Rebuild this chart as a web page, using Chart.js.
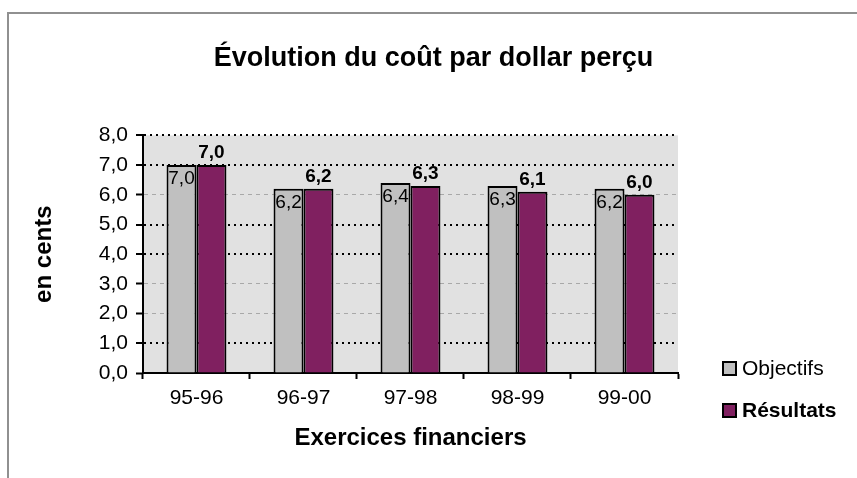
<!DOCTYPE html>
<html lang="fr">
<head>
<meta charset="utf-8">
<title>Évolution du coût par dollar perçu</title>
<script src="https://cdn.jsdelivr.net/npm/chart.js@4.4.1/dist/chart.umd.min.js"></script>
<style>
  html, body { margin: 0; padding: 0; background: #fff; }
  #wrap { position: relative; width: 857px; height: 478px; }
</style>
</head>
<body>
<div id="wrap"><canvas id="cout"></canvas></div>
<script>
// Data
const exercices = ['95-96', '96-97', '97-98', '98-99', '99-00'];
const objectifs = [7.0, 6.2, 6.4, 6.3, 6.2];
const resultats = [7.0, 6.2, 6.3, 6.1, 6.0];
const yTicks = [0, 1, 2, 3, 4, 5, 6, 7, 8];

const FONT = "'Liberation Sans', Arial, sans-serif";
const fmt = v => Number(v).toFixed(1).replace('.', ',');

// grid lines that show as black dots in the original (others are light grey dashes)
const darkLines = [1, 4, 5, 7, 8];

// grey frame, plot background
const backdrop = {
  id: 'backdrop',
  beforeDraw(chart) {
    const { ctx, chartArea: a } = chart;
    ctx.save();
    ctx.strokeStyle = '#909090';
    ctx.lineWidth = 2;
    ctx.beginPath();
    ctx.moveTo(8, chart.height);
    ctx.lineTo(8, 13);
    ctx.lineTo(chart.width, 13);
    ctx.stroke();
    ctx.fillStyle = '#e1e1e1';
    ctx.fillRect(a.left, a.top, a.right - a.left, a.bottom - a.top);
    ctx.restore();
  }
};

// value labels: inside the top of the grey bar, bold above the purple one
const valueLabels = {
  id: 'valueLabels',
  afterDatasetsDraw(chart) {
    const { ctx } = chart;
    ctx.save();
    ctx.fillStyle = '#000';
    ctx.textAlign = 'center';
    ctx.textBaseline = 'middle';
    chart.data.datasets.forEach((ds, i) => {
      const meta = chart.getDatasetMeta(i);
      meta.data.forEach((bar, j) => {
        if (i === 0) {
          ctx.font = '19px ' + FONT;
          ctx.fillText(fmt(ds.data[j]), bar.x, bar.y + 14);
        } else {
          ctx.font = 'bold 19px ' + FONT;
          ctx.fillText(fmt(ds.data[j]), bar.x, bar.y - 12);
        }
      });
    });
    ctx.restore();
  }
};

// legend on the right, second entry in bold
const sideLegend = {
  id: 'sideLegend',
  afterDraw(chart) {
    const { ctx } = chart;
    const rows = [369, 411];
    ctx.save();
    ctx.textBaseline = 'middle';
    ctx.textAlign = 'left';
    chart.data.datasets.forEach((ds, i) => {
      const y = rows[i];
      ctx.fillStyle = ds.backgroundColor;
      ctx.fillRect(723, y - 7, 13, 13);
      ctx.strokeStyle = '#000';
      ctx.lineWidth = 2;
      ctx.strokeRect(723, y - 7, 13, 13);
      ctx.fillStyle = '#000';
      ctx.font = (i === 1 ? 'bold ' : '') + '21px ' + FONT;
      ctx.fillText(ds.label, 742, y);
    });
    ctx.restore();
  }
};

new Chart(document.getElementById('cout'), {
  type: 'bar',
  data: {
    labels: exercices,
    datasets: [
      {
        label: 'Objectifs',
        data: objectifs,
        backgroundColor: '#c0c0c0',
        borderColor: '#000',
        borderWidth: 2,
        barPercentage: 1,
        categoryPercentage: 0.56
      },
      {
        label: 'Résultats',
        data: resultats,
        backgroundColor: '#802060',
        borderColor: '#000',
        borderWidth: 2,
        barPercentage: 1,
        categoryPercentage: 0.56
      }
    ]
  },
  options: {
    responsive: true,
    maintainAspectRatio: false,
    animation: false,
    layout: {
      padding: { left: 10, right: 0, top: 12, bottom: 20 }
    },
    plugins: {
      legend: { display: false },
      tooltip: { enabled: false },
      title: {
        display: true,
        text: 'Évolution du coût par dollar perçu',
        color: '#000',
        font: { family: FONT, size: 27, weight: 'bold' },
        padding: { top: 30, bottom: 61 }
      }
    },
    scales: {
      x: {
        grid: {
          display: true,
          drawOnChartArea: false,
          drawTicks: true,
          tickLength: 6,
          tickColor: '#000',
          tickWidth: 2
        },
        border: { display: true, color: '#000', width: 2 },
        ticks: {
          color: '#000',
          padding: 7,
          font: { family: FONT, size: 21 }
        },
        title: {
          display: true,
          text: 'Exercices financiers',
          color: '#000',
          font: { family: FONT, size: 24, weight: 'bold' },
          padding: { top: 6, bottom: 5 }
        }
      },
      y: {
        min: yTicks[0],
        max: yTicks[yTicks.length - 1],
        afterBuildTicks(scale) {
          scale.ticks = yTicks.map(v => ({ value: v }));
        },
        grid: {
          color: ctx => {
            const v = ctx.tick ? ctx.tick.value : 0;
            if (v === 0) return 'rgba(0,0,0,0)';
            return darkLines.includes(v) ? '#000' : '#a8a8a8';
          },
          lineWidth: ctx => (ctx.tick && darkLines.includes(ctx.tick.value) ? 2 : 1),
          tickLength: 7,
          tickColor: '#000',
          tickWidth: 2,
          tickBorderDash: []
        },
        border: {
          display: true,
          color: '#000',
          width: 2,
          dash: ctx => {
            if (!ctx.tick) return [];
            return darkLines.includes(ctx.tick.value) ? [2, 4] : [4, 4];
          }
        },
        ticks: {
          color: '#000',
          padding: 8,
          font: { family: FONT, size: 21 },
          callback: v => fmt(v)
        },
        title: {
          display: true,
          text: 'en cents',
          color: '#000',
          font: { family: FONT, size: 24, weight: 'bold' },
          padding: { top: 20, bottom: 32 }
        }
      },
      // empty axis on the right that only keeps room for the legend
      side: {
        position: 'right',
        grid: { display: false },
        border: { display: false },
        ticks: { display: false },
        afterFit(scale) {
          scale.width = 179;
        }
      }
    }
  },
  plugins: [backdrop, valueLabels, sideLegend]
});
</script>
</body>
</html>
